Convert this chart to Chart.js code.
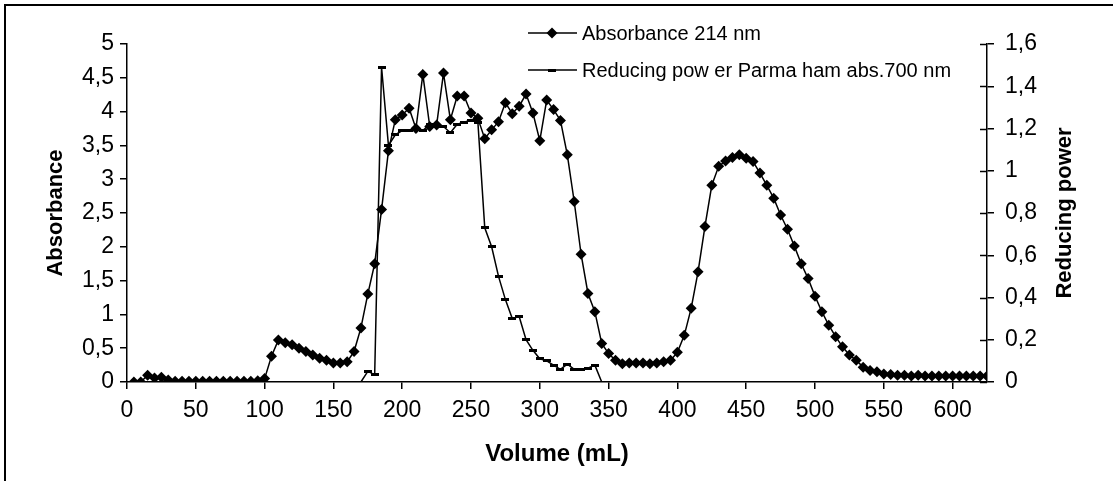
<!DOCTYPE html>
<html><head><meta charset="utf-8">
<script src="https://cdn.jsdelivr.net/npm/chart.js@4.4.1/dist/chart.umd.min.js"></script>
<style>html,body{margin:0;padding:0;background:#fff;}canvas{display:block;}</style>
</head><body>
<canvas id="c" width="1113" height="481"></canvas>
<script>
// ---------- data ----------
const volumes = [5,10,15,20,25,30,35,40,45,50,55,60,65,70,75,80,85,90,95,100,
  105,110,115,120,125,130,135,140,145,150,155,160,165,170,175,180,185,190,195,200,
  205,210,215,220,225,230,235,240,245,250,255,260,265,270,275,280,285,290,295,300,
  305,310,315,320,325,330,335,340,345,350,355,360,365,370,375,380,385,390,395,400,
  405,410,415,420,425,430,435,440,445,450,455,460,465,470,475,480,485,490,495,500,
  505,510,515,520,525,530,535,540,545,550,555,560,565,570,575,580,585,590,595,600,
  605,610,615,620,625];
const absorbance214 = [0,0,0.1,0.06,0.07,0.03,0.01,0.01,0.01,0.01,0.01,0.01,0.01,0.01,0.01,0.01,0.01,0.01,0.02,0.05,
  0.38,0.62,0.58,0.55,0.5,0.45,0.4,0.35,0.32,0.28,0.28,0.3,0.45,0.8,1.3,1.75,2.55,3.42,3.88,3.95,
  4.05,3.75,4.55,3.78,3.8,4.57,3.88,4.23,4.23,3.98,3.9,3.6,3.73,3.85,4.13,3.97,4.08,4.26,3.98,3.57,
  4.17,4.03,3.87,3.36,2.67,1.89,1.31,1.04,0.57,0.42,0.32,0.27,0.28,0.28,0.28,0.27,0.28,0.3,0.32,0.44,
  0.69,1.09,1.63,2.3,2.91,3.19,3.27,3.32,3.36,3.31,3.26,3.09,2.91,2.72,2.47,2.26,2.01,1.75,1.53,1.27,
  1.04,0.84,0.67,0.52,0.4,0.32,0.22,0.17,0.15,0.12,0.11,0.1,0.1,0.09,0.1,0.09,0.09,0.09,0.09,0.09,
  0.09,0.09,0.09,0.09,0.09];
const reducingPower700 = [0,0,0,0,0,0,0,0,0,0,0,0,0,0,0,0,0,0,0,0,
  0,0,0,0,0,0,0,0,0,0,0,0,0,0,0.05,0.035,1.49,1.12,1.17,1.19,
  1.19,1.2,1.19,1.22,1.21,1.21,1.18,1.22,1.23,1.24,1.23,0.73,0.64,0.5,0.39,0.3,0.31,0.2,0.15,0.11,
  0.1,0.08,0.06,0.085,0.06,0.06,0.065,0.08,0,0,0,0,0,0,0,0,0,0,0,0,
  0,0,0,0,0,0,0,0,0,0,0,0,0,0,0,0,0,0,0,0,
  0,0,0,0,0,0,0,0,0,0,0,0,0,0,0,0,0,0,0,0,
  0,0,0,0,0];
const xTicks = [0,50,100,150,200,250,300,350,400,450,500,550,600];
const leftTicks = [0,0.5,1,1.5,2,2.5,3,3.5,4,4.5,5];
const rightTicks = [0,0.2,0.4,0.6,0.8,1,1.2,1.4,1.6];
const seriesLabels = ['Absorbance 214 nm','Reducing pow er Parma ham abs.700 nm'];
const xTitle = 'Volume (mL)';
const leftTitle = 'Absorbance';
const rightTitle = 'Reducing power';

// ---------- style ----------
const FAM = "'Liberation Sans', Arial, sans-serif";
const fmt = v => String(Math.round(v*10)/10).replace('.', ',');

const dash = document.createElement('canvas');
dash.width = 8; dash.height = 3;
(function(){const d = dash.getContext('2d'); d.fillStyle = '#000'; d.fillRect(0,0,8,3);})();

const framePlugin = {
  id:'frame',
  beforeDraw(chart){
    const c = chart.ctx;
    c.save();
    c.fillStyle = '#fff'; c.fillRect(0,0,chart.width,chart.height);
    c.strokeStyle = '#000'; c.lineWidth = 2;
    c.beginPath(); c.moveTo(5, chart.height); c.lineTo(5,5); c.lineTo(chart.width,5); c.stroke();
    c.restore();
  }
};

const crossTickPlugin = {
  id:'crossTicks',
  afterDraw(chart){
    const s = chart.scales.y2, c = chart.ctx;
    c.save(); c.strokeStyle = '#000'; c.lineWidth = 1.5;
    s.ticks.forEach(t => {
      const y = Math.round(s.getPixelForValue(t.value)) + 0.5;
      c.beginPath(); c.moveTo(s.left - 7, y); c.lineTo(s.left, y); c.stroke();
    });
    // right title, rotated bottom-to-top
    c.fillStyle = '#000';
    c.font = 'bold 22px ' + FAM;
    c.textAlign = 'center'; c.textBaseline = 'middle';
    c.translate(1065, (chart.chartArea.top + chart.chartArea.bottom)/2);
    c.rotate(-Math.PI/2);
    c.fillText(rightTitle, 0, 0);
    c.restore();
  }
};

const legendPlugin = {
  id:'customLegend',
  afterDraw(chart){
    const c = chart.ctx;
    const rows = [33, 70];
    chart.data.datasets.forEach((ds, i) => {
      const y = rows[i];
      c.save();
      c.strokeStyle = '#000'; c.lineWidth = 1.5;
      c.beginPath(); c.moveTo(528, y); c.lineTo(577, y); c.stroke();
      c.fillStyle = '#000';
      Chart.helpers.drawPoint(c, {pointStyle: ds.pointStyle, radius: ds.pointRadius, rotation: 0, borderWidth: 0}, 552, y);
      c.font = '20px ' + FAM;
      c.textAlign = 'left'; c.textBaseline = 'middle';
      c.fillText(ds.label, 582, y + 1);
      c.restore();
    });
  }
};

function axisCommon(extra){
  return Object.assign({
    grid:{display:true, drawOnChartArea:false, drawTicks:true, tickLength:7, color:'#000', lineWidth:1.5},
    border:{display:true, color:'#000', width:1.5},
  }, extra);
}

new Chart(document.getElementById('c'), {
  type:'line',
  data:{datasets:[
    {label:seriesLabels[0], yAxisID:'y',
     data: volumes.map((v,i)=>({x:v, y:absorbance214[i]})),
     borderColor:'#000', backgroundColor:'#000', borderWidth:1.5, tension:0,
     pointStyle:'rectRot', pointRadius:5.5, pointBackgroundColor:'#000', pointBorderColor:'#000', pointBorderWidth:0},
    {label:seriesLabels[1], yAxisID:'y2',
     data: volumes.map((v,i)=>({x:v, y:reducingPower700[i]})),
     borderColor:'#000', backgroundColor:'#000', borderWidth:1.5, tension:0,
     pointStyle:dash, pointRadius:4, pointBorderWidth:0}
  ]},
  options:{
    responsive:false, animation:false, events:[],
    layout:{padding:{top:44, left:0, right:0, bottom:0}},
    plugins:{legend:{display:false}, tooltip:{enabled:false}, title:{display:false}},
    scales:{
      x: axisCommon({type:'linear', position:'bottom', min:0, max:625,
        afterFit(s){ s.height = 99; },
        afterBuildTicks(s){ s.ticks = xTicks.map(v=>({value:v})); },
        ticks:{color:'#000', font:{family:FAM, size:23}, padding:8, maxRotation:0, autoSkip:false},
        title:{display:true, text:xTitle, color:'#000', font:{family:FAM, size:24, weight:'bold'}, padding:{top:0, bottom:12}}
      }),
      y: axisCommon({type:'linear', position:'left', min:0, max:5,
        afterFit(s){ s.width = 127; },
        afterBuildTicks(s){ s.ticks = leftTicks.map(v=>({value:v})); },
        ticks:{color:'#000', font:{family:FAM, size:23}, padding:6, callback:fmt},
        title:{display:true, text:leftTitle, color:'#000', font:{family:FAM, size:22, weight:'bold'}, padding:{top:43, bottom:0}}
      }),
      y2: axisCommon({type:'linear', position:'right', min:0, max:1.6,
        afterFit(s){ s.width = 126; },
        afterBuildTicks(s){ s.ticks = rightTicks.map(v=>({value:v})); },
        ticks:{color:'#000', font:{family:FAM, size:23}, padding:11, callback:fmt}
      })
    }
  },
  plugins:[framePlugin, legendPlugin, crossTickPlugin]
});
</script>
</body></html>
